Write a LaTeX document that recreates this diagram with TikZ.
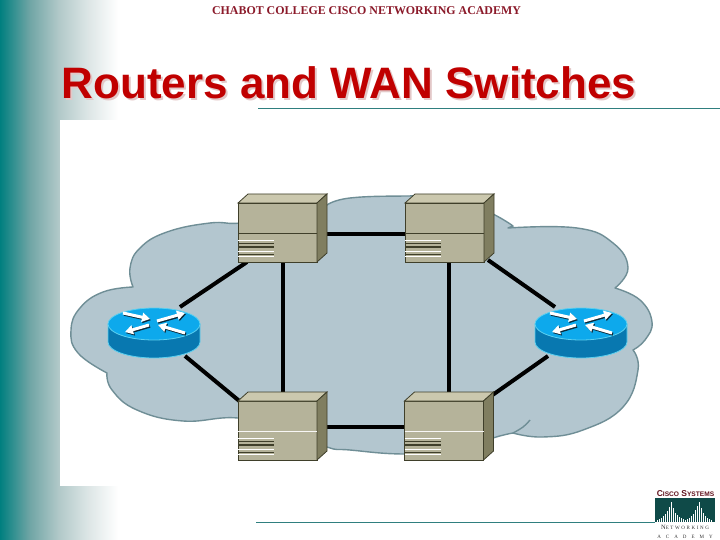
\documentclass[tikz,border=0pt]{standalone}
\usepackage{fontspec}
\setmainfont{Liberation Serif}
\newfontfamily\titlefont{Liberation Sans}
\newfontfamily\logosans{Liberation Sans}
\newfontfamily\logoserifA[LetterSpace=32]{Liberation Serif}
\newfontfamily\logoserifB[LetterSpace=100]{Liberation Serif}
\usetikzlibrary{arrows.meta,shapes.geometric}
\definecolor{teal0}{HTML}{007F7F}
\definecolor{fadeA}{HTML}{6FA5A5}
\definecolor{fadeB}{HTML}{B2C9C9}
\definecolor{fadeC}{HTML}{DDE6E6}
\definecolor{rulec}{HTML}{2F7F7F}
\definecolor{headred}{HTML}{8B1A2A}
\definecolor{titlered}{HTML}{C00000}
\definecolor{titleshadow}{HTML}{E3C8C8}
\definecolor{cloudfill}{HTML}{B3C6CF}
\definecolor{cloudline}{HTML}{6F8E96}
\definecolor{swfront}{HTML}{B5B39A}
\definecolor{swtop}{HTML}{CBC8AE}
\definecolor{swside}{HTML}{807E60}
\definecolor{swedge}{HTML}{3F3F2A}
\definecolor{rttop}{HTML}{0DA9EC}
\definecolor{rtside}{HTML}{0878B0}
\definecolor{rtedge}{HTML}{5CD0F0}
\definecolor{arrowdark}{HTML}{0A2A3A}
\definecolor{logoteal}{HTML}{0F4A48}
\pgfdeclarehorizontalshading{sidefade}{100bp}{
 color(0bp)=(teal0);
 color(25bp)=(teal0);
 color(37.5bp)=(fadeA);
 color(50bp)=(fadeB);
 color(62.5bp)=(fadeC);
 color(75bp)=(white);
 color(100bp)=(white)}
\tikzset{
 x=1pt,y=-1pt,
 swbox/.style={draw=swedge,fill=swfront,line width=0.8pt,minimum width=79pt,minimum height=59pt,inner sep=0pt,outer sep=0pt},
 rtbox/.style={minimum width=92pt,minimum height=52pt,inner sep=0pt,outer sep=0pt},
 linkline/.style={line width=4pt,black},
 rulel/.style={draw=rulec,line width=0.7pt},
 rtarrow/.style={line width=3pt,-{Triangle[width=9pt,length=8pt]}},
 txt/.style={inner sep=0pt,outer sep=0pt}
}
\newcommand{\swfaces}[2]{% name, divider colour
 \fill[swtop,draw=swedge,line width=0.8pt] (#1.north west) -- ++(10,-9) -- ++(79,0) -- (#1.north east) -- cycle;
 \fill[swside,draw=swedge,line width=0.8pt] (#1.north east) -- ++(10,-9) -- ++(0,59) -- (#1.south east) -- cycle;
 \draw[#2,line width=0.8pt] ([yshift=-1pt]#1.west) -- ([yshift=-1pt]#1.east);
 \foreach \d/\c/\w in {37/white/0.9,40.5/swedge/0.9,44/swedge/1.5,48/white/0.9,51.5/swedge/0.8,53/white/0.8}{
  \draw[\c,line width=\w pt] ([yshift=-\d pt]#1.north west) -- ++(36,0);
 }
}
\newcommand{\rticon}[1]{% router drawn on node
 \begin{scope}[shift={(#1.center)}]
  \fill[rtside,draw=rtedge,line width=0.8pt] (-46,-9) -- (-46,9) arc[x radius=46,y radius=16,start angle=180,end angle=0] -- (46,-9) -- cycle;
  \fill[rttop,draw=rtedge,line width=0.8pt] (0,-9) ellipse[x radius=46,y radius=16];
  \foreach \dx/\dy/\col in {1/1.2/arrowdark,0/0/white}{
   \begin{scope}[shift={(\dx,\dy)}]
    \draw[\col,rtarrow] (-31,-20) -- (-4,-14);
    \draw[\col,rtarrow] (-5,-8) -- (-29,-1);
    \draw[\col,rtarrow] (3,-12) -- (31,-20);
    \draw[\col,rtarrow] (31,0) -- (4,-8);
   \end{scope}
  }
 \end{scope}
}
\begin{document}
\begin{tikzpicture}
\useasboundingbox (0,0) rectangle (720,540);
\fill[white] (0,0) rectangle (720,540);
\shade[shading=sidefade] (0,0) rectangle (118,540);
\fill[white] (60,120) rectangle (118,486);
% rules
\coordinate (ruleTa) at (258,108); \coordinate (ruleTb) at (720,108);
\coordinate (ruleBa) at (256,522); \coordinate (ruleBb) at (655,522);
\draw[rulel] (ruleTa) -- (ruleTb);
\draw[rulel] (ruleBa) -- (ruleBb);
% text
\node[txt,text=headred,font=\fontsize{11.93}{14}\selectfont\bfseries] (head) at (366.5,11) {CHABOT COLLEGE CISCO NETWORKING ACADEMY};
\node[txt,text=titleshadow,font=\titlefont\fontsize{44}{50}\selectfont\bfseries] (titles) at (351,85) {Routers and WAN Switches};
\node[txt,text=titlered,font=\titlefont\fontsize{44}{50}\selectfont\bfseries] (title) at (349,83) {Routers and WAN Switches};
% cloud
\path[fill=cloudfill,draw=cloudline,line width=1.4pt,line join=round]
 plot[smooth,tension=0.75] coordinates {(327,205) (350,198) (407,196) (455,197) (493,214) (513,226)}
 -- plot[smooth,tension=0.75] coordinates {(508,228) (577,228) (613,243) (628,268) (615,288)}
 -- plot[smooth,tension=0.75] coordinates {(615,288) (640,300) (652,322) (645,340) (633,350)}
 -- plot[smooth,tension=0.75] coordinates {(633,350) (638,370) (623,407) (583,430) (543,437) (513,433)}
 -- plot[smooth,tension=0.75] coordinates {(513,433) (493,438) (460,450) (405,454) (350,450) (327,447) (290,430) (238,418) (183,421) (137,410) (112,390) (107,373)}
 -- plot[smooth,tension=0.75] coordinates {(107,373) (78,353) (71,330) (80,308) (103,292) (133,287)}
 -- plot[smooth,tension=0.75] coordinates {(133,287) (130,268) (140,248) (167,232) (210,223) (240,223) (280,215) (327,205)}
 -- cycle;
\draw[cloudline,line width=1.4pt] plot[smooth,tension=0.75] coordinates {(513,433) (523,427) (530,420)};
% devices
\node[swbox] (swTL) at (277.5,232.5) {};
\node[swbox] (swTR) at (444.5,232.5) {};
\node[swbox] (swBL) at (277.5,430.5) {};
\node[swbox] (swBR) at (444,430.5) {};
\node[rtbox] (rtL) at (154,333) {};
\node[rtbox] (rtR) at (581,333) {};
% links
\draw[linkline] ([yshift=-1.5pt]swTL.east) -- ([yshift=-1.5pt]swTR.west);
\draw[linkline] ([yshift=3.5pt]swBL.east) -- ([yshift=3.5pt]swBR.west);
\draw[linkline] ([xshift=5.5pt]swTL.south) -- ([xshift=5.5pt,yshift=-10pt]swBL.north);
\draw[linkline] ([xshift=4.5pt]swTR.south) -- ([xshift=5pt,yshift=-10pt]swBR.north);
\draw[linkline] ([xshift=26pt]rtL.north) -- ([xshift=9pt]swTL.south west);
\draw[linkline] ([xshift=31pt,yshift=3pt]rtL.south) -- ([xshift=5pt,yshift=-3pt]swBL.north west);
\draw[linkline] ([xshift=-26pt]rtR.north) -- ([xshift=4pt,yshift=2pt]swTR.south east);
\draw[linkline] ([xshift=-33pt,yshift=3pt]rtR.south) -- ([xshift=9pt,yshift=6pt]swBR.north east);
% redraw device faces above links
\node[swbox] at (swTL) {}; \node[swbox] at (swTR) {}; \node[swbox] at (swBL) {}; \node[swbox] at (swBR) {};
\swfaces{swTL}{swedge}
\swfaces{swTR}{swedge}
\swfaces{swBL}{white!90!swfront}
\swfaces{swBR}{white!90!swfront}
\rticon{rtL}
\rticon{rtR}
% logo
\node[txt,text=headred!70!black,font=\logosans\fontsize{8.5}{9}\selectfont\bfseries] (logoA) at (685.5,493.5) {C{\fontsize{6.6}{9}\selectfont ISCO} S{\fontsize{6.6}{9}\selectfont YSTEMS}};
\fill[logoteal] (655,498) rectangle (715,522);
\foreach \x/\h in {657/2,659/3,661/4,663/6,665/8,667/11,669/15,671/20,673/14,675/9,677/7,679/5,681/4,683/3,685/2,687/3,689/4,691/6,693/8,695/12,697/16,699/20,701/14,703/9,705/6,707/4,709/3,711/2}{
 \fill[white] (\x,522) rectangle ++(1.3,-\h);
}
\node[txt,text=black!80,font=\logoserifA\fontsize{6.5}{7}\selectfont] (logoB) at (685,527.5) {N{\fontsize{5}{7}\selectfont ETWORKING}};
\node[txt,text=black!80,font=\logoserifB\fontsize{5}{7}\selectfont] (logoC) at (685,536.5) {ACADEMY};
\end{tikzpicture}
\end{document}
